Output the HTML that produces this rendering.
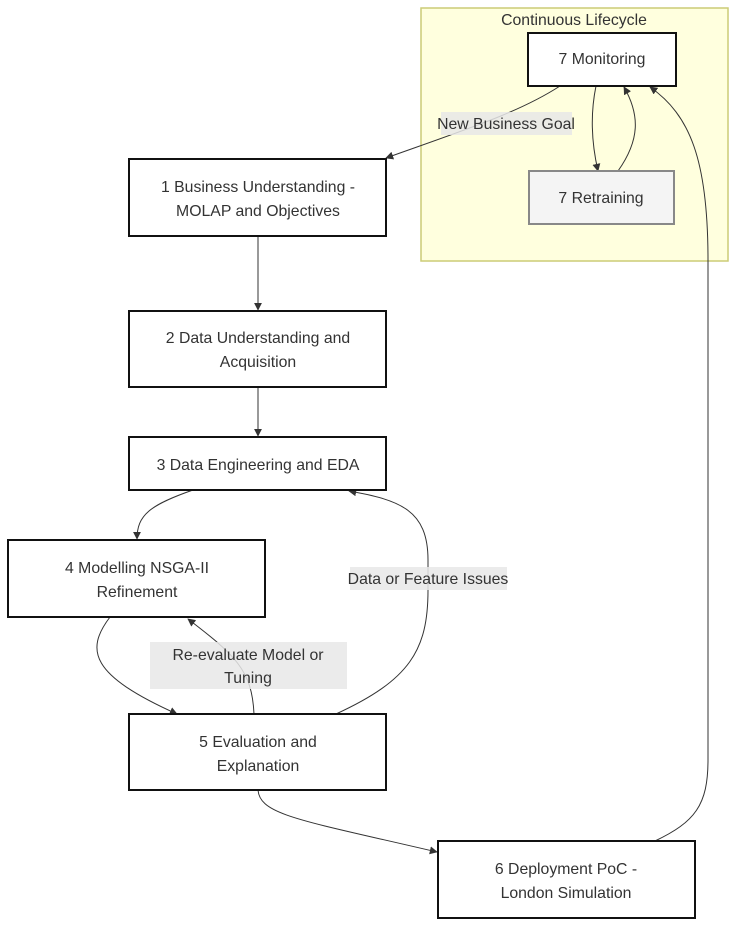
<!DOCTYPE html>
<html><head><meta charset="utf-8"><style>
html,body{margin:0;padding:0;background:#fff;}
svg{display:block;}
text{font-family:"Liberation Sans",sans-serif;font-size:15.8px;fill:#333;}
.n{fill:#fff;stroke:#111;stroke-width:2;}
.e{fill:none;stroke:#333;stroke-width:1;}
</style></head><body>
<svg width="744" height="936" viewBox="0 0 744 936">
<defs><marker id="a" viewBox="0 0 10 10" refX="9" refY="5" markerWidth="8" markerHeight="8" orient="auto"><path d="M0,0L10,5L0,10z" fill="#333"/></marker></defs>
<rect x="421" y="8" width="307" height="253" fill="#ffffde" stroke="#cccc77" stroke-width="1.5"/>
<text x="574" y="25" text-anchor="middle">Continuous Lifecycle</text>

<path class="e" d="M560,86 C520,112 470,128 386,158" marker-end="url(#a)"/>
<path class="e" d="M596,86 C590,115 592,145 598,171" marker-end="url(#a)"/>
<path class="e" d="M618,171 C640,140 640,115 624,87" marker-end="url(#a)"/>
<path class="e" d="M655,841 C695,822 708,805 708,760 L708,260 C708,160 690,115 650,87" marker-end="url(#a)"/>
<path class="e" d="M258,236 L258,310" marker-end="url(#a)"/>
<path class="e" d="M258,387 L258,436" marker-end="url(#a)"/>
<path class="e" d="M193,490 C150,505 137,515 137,539" marker-end="url(#a)"/>
<path class="e" d="M110,617 C85,650 90,675 177,714" marker-end="url(#a)"/>
<path class="e" d="M254,714 C252,670 235,655 188,619" marker-end="url(#a)"/>
<path class="e" d="M336,714 C410,680 428,650 428,590 L428,560 C428,510 400,500 349,491" marker-end="url(#a)"/>
<path class="e" d="M258,790 C260,815 300,820 437,852" marker-end="url(#a)"/>

<rect x="441" y="112" width="131" height="23" fill="#e8e8e8" fill-opacity="0.85"/>
<text x="506" y="129" text-anchor="middle">New Business Goal</text>
<rect x="350" y="567" width="157" height="23" fill="#e8e8e8" fill-opacity="0.85"/>
<text x="428" y="584" text-anchor="middle">Data or Feature Issues</text>
<rect x="150" y="642" width="197" height="47" fill="#e8e8e8" fill-opacity="0.85"/>
<text x="248" y="660" text-anchor="middle">Re-evaluate Model or</text>
<text x="248" y="683" text-anchor="middle">Tuning</text>

<rect class="n" x="528" y="33" width="148" height="53"/>
<text x="602" y="64" text-anchor="middle">7 Monitoring</text>
<rect x="529" y="171" width="145" height="53" fill="#f4f4f4" stroke="#888" stroke-width="2"/>
<text x="601" y="203" text-anchor="middle">7 Retraining</text>

<rect class="n" x="129" y="159" width="257" height="77"/>
<text x="258" y="192" text-anchor="middle">1 Business Understanding -</text>
<text x="258" y="216" text-anchor="middle">MOLAP and Objectives</text>

<rect class="n" x="129" y="311" width="257" height="76"/>
<text x="258" y="343" text-anchor="middle">2 Data Understanding and</text>
<text x="258" y="367" text-anchor="middle">Acquisition</text>

<rect class="n" x="129" y="437" width="257" height="53"/>
<text x="258" y="470" text-anchor="middle">3 Data Engineering and EDA</text>

<rect class="n" x="8" y="540" width="257" height="77"/>
<text x="137" y="573" text-anchor="middle">4 Modelling NSGA-II</text>
<text x="137" y="597" text-anchor="middle">Refinement</text>

<rect class="n" x="129" y="714" width="257" height="76"/>
<text x="258" y="747" text-anchor="middle">5 Evaluation and</text>
<text x="258" y="771" text-anchor="middle">Explanation</text>

<rect class="n" x="438" y="841" width="257" height="77"/>
<text x="566" y="874" text-anchor="middle">6 Deployment PoC -</text>
<text x="566" y="898" text-anchor="middle">London Simulation</text>
</svg>
</body></html>
